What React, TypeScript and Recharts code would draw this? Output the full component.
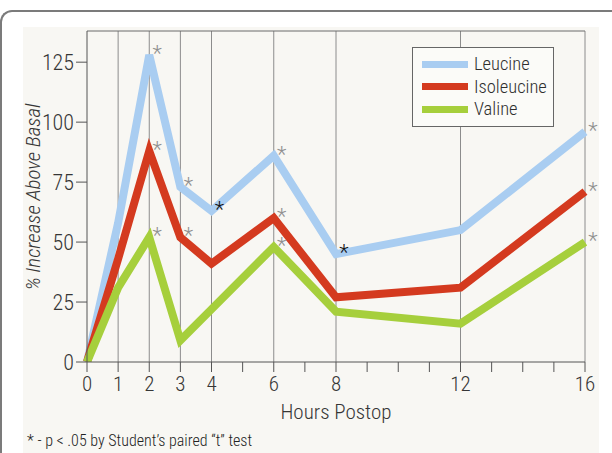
import React from 'react';
import { LineChart, Line, XAxis, YAxis, ReferenceLine, LabelList, Legend } from 'recharts';

const hours = [0, 1, 2, 3, 4, 6, 8, 12, 16];
const leucine = [0, 58, 128, 73, 63, 86, 45, 55, 96];
const isoleucine = [0, 43, 88, 52, 41, 60, 27, 31, 71];
const valine = [0, 31, 52, 9, 22, 48, 21, 16, 50];

// significance marks per point: '' none, 'g' grey asterisk, 'k' black asterisk
const leucineStars = ['', '', 'g', 'g', 'k', 'g', 'k', '', 'g'];
const isoleucineStars = ['', '', 'g', 'g', '', 'g', '', '', 'g'];
const valineStars = ['', '', 'g', '', '', 'g', '', '', 'g'];

const xTicks = [0, 1, 2, 3, 4, 5, 6, 7, 8, 9, 10, 11, 12, 13, 14, 15, 16];
const xLabels = [0, 1, 2, 3, 4, 6, 8, 12, 16];
const gridHours = [1, 2, 3, 4, 6, 8, 12, 16];
const yTicks = [0, 25, 50, 75, 100, 125];

const series = [
  { key: 'leucine', name: 'Leucine', color: '#a9cdf1', stars: leucineStars },
  { key: 'isoleucine', name: 'Isoleucine', color: '#d43a1f', stars: isoleucineStars },
  { key: 'valine', name: 'Valine', color: '#a6cf3c', stars: valineStars },
];

const data = hours.map((h, i) => ({
  hour: h,
  leucine: leucine[i],
  isoleucine: isoleucine[i],
  valine: valine[i],
}));

const FONT = '"Liberation Sans Narrow", "Arial Narrow", "Roboto Condensed", sans-serif';
const INK = '#363636';

const starLabel = (stars: string[]) => (props: any) => {
  const { x, y, index } = props;
  const s = stars[index];
  if (!s) return null;
  return (
    <text x={x + 8} y={y + 6} fill={s === 'k' ? '#111' : '#8f8f8f'} fontSize={22} fontFamily={FONT} fontWeight={300}
      textAnchor="middle">*</text>
  );
};

const LegendBox = () => (
  <div style={{
    width: 142, height: 80, border: '1px solid #666', boxSizing: 'border-box',
    background: '#fbfbf8', padding: '5px 0 0 9px', fontFamily: FONT, fontSize: 18.5, fontWeight: 300, color: '#2e2e2e',
  }}>
    {series.map(s => (
      <div key={s.key} style={{ display: 'flex', alignItems: 'center', height: 22.5 }}>
        <div style={{ width: 46, height: 7, background: s.color, marginRight: 6 }} />
        <span>{s.name}</span>
      </div>
    ))}
  </div>
);

const App = () => {
  return <div style={{ position: 'absolute', left: 0, top: 0, width: 612, height: 453, background: '#fff', overflow: 'hidden' }}>
      <div style={{
      position: 'absolute', left: 0, top: 10, width: 640, height: 480,
      borderTop: '2px solid #7b7b7b', borderLeft: '2px solid #7b7b7b', borderTopLeftRadius: 12,
    }} />
      <div style={{ position: 'absolute', left: 23, top: 27, width: 576, height: 426, background: '#f8f7f3' }} />
      <div style={{ position: 'absolute', left: 0, top: 0 }}>
        <LineChart width={612} height={453} data={data} margin={{
        top: 31,
        right: 27,
        left: 27,
        bottom: 61
      }}>
          {gridHours.map(h => <ReferenceLine key={h} x={h} stroke="#8c8c8c" strokeWidth={1} />)}
          <ReferenceLine y={138} stroke="#6a6a6a" strokeWidth={1} />
          <XAxis dataKey="hour" type="number" domain={[0, 16]} ticks={xTicks} interval={0} height={30}
          tickFormatter={(v: number) => xLabels.includes(v) ? String(v) : ''}
          stroke="#555" tickSize={10} tickMargin={4}
          tick={{ fontFamily: FONT, fontSize: 21, fontWeight: 300, fill: INK }}
          label={(p: any) => {
            const vb = p.viewBox;
            return <text x={vb.x + vb.width / 2} y={vb.y + 57} textAnchor="middle" fontFamily={FONT} fontWeight={300} fontSize={21} fill={INK}>Hours Postop</text>;
          }} />
          <YAxis type="number" domain={[0, 138]} ticks={yTicks} width={60} allowDataOverflow
          stroke="#555" tickSize={11} tickMargin={2}
          tick={{ fontFamily: FONT, fontSize: 22, fontWeight: 300, fill: INK }}
          label={() => {
            const cx = 33;
            const cy = 197;
            return <text x={cx} y={cy} transform={`rotate(-90 ${cx} ${cy})`} textAnchor="middle" dominantBaseline="central"
              fontFamily={FONT} fontStyle="italic" fontWeight={300} fontSize={21} fill={INK}>% Increase Above Basal</text>;
          }} />
          <Legend layout="vertical" align="center" verticalAlign="middle" content={() => <LegendBox />}
          wrapperStyle={{ left: 412, top: 47, width: 142 }} />
          {series.map(s => <Line key={s.key} dataKey={s.key} name={s.name} stroke={s.color} strokeWidth={8}
          strokeLinejoin="miter" dot={false} activeDot={false} isAnimationActive={false}>
              <LabelList dataKey={s.key} content={starLabel(s.stars)} />
            </Line>)}
        </LineChart>
      </div>
      <div style={{ position: 'absolute', left: 27, top: 431, fontFamily: FONT, fontSize: 16, fontWeight: 300, color: '#222', whiteSpace: 'nowrap' }}>
        * - p &lt; .05 by Student’s paired “t” test
      </div>
    </div>;
};

export default App;
